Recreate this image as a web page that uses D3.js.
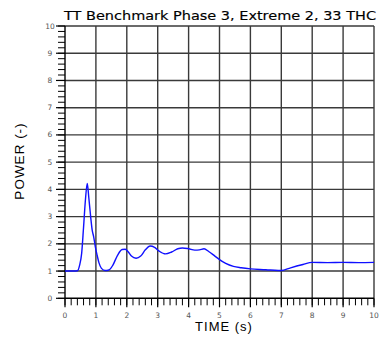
<!DOCTYPE html>
<html><head><meta charset="utf-8">
<script src="https://cdn.jsdelivr.net/npm/d3@7"></script>
<style>body{margin:0;background:#fff}svg{display:block}</style>
</head><body>
<script>
const timeS = [0,0.3,0.4,0.47,0.54,0.6,0.66,0.72,0.77,0.83,0.88,0.93,0.98,1.04,1.1,1.18,1.3,1.42,1.55,1.7,1.85,1.95,2.05,2.15,2.3,2.45,2.6,2.75,2.9,3.05,3.25,3.45,3.65,3.8,4.0,4.2,4.35,4.5,4.65,4.85,5.0,5.2,5.45,5.7,6.0,6.5,6.9,7.0,7.3,7.7,8.0,8.5,9.0,9.5,10];
const power = [1,1,1.01,1.2,1.66,2.6,3.6,4.22,3.7,3.0,2.5,2.25,1.9,1.58,1.3,1.1,1.02,1.04,1.22,1.58,1.79,1.8,1.7,1.55,1.47,1.55,1.78,1.92,1.87,1.73,1.63,1.7,1.82,1.85,1.82,1.77,1.78,1.82,1.72,1.55,1.42,1.28,1.17,1.12,1.08,1.05,1.02,1.02,1.12,1.24,1.32,1.31,1.32,1.31,1.32];
const xTicks = [0,1,2,3,4,5,6,7,8,9,10];
const yTicks = [0,1,2,3,4,5,6,7,8,9,10];
const title = "TT Benchmark Phase 3, Extreme 2, 33 THC";

const W=380,H=338;
const svg=d3.select("body").append("svg").attr("width",W).attr("height",H);
const x=d3.scaleLinear().domain([0,10]).range([65,374]);
const y=d3.scaleLinear().domain([0,10]).range([298.3,26]);

// grid
const g=svg.append("g");
g.selectAll(".vg").data(xTicks.slice(1)).join("line")
 .attr("x1",d=>x(d)).attr("x2",d=>x(d)).attr("y1",y(0)).attr("y2",y(10))
 .attr("stroke","#3a3a3a").attr("stroke-width",1.4);
g.selectAll(".hg").data(yTicks.slice(1)).join("line")
 .attr("x1",x(0)).attr("x2",x(10)).attr("y1",d=>y(d)).attr("y2",d=>y(d))
 .attr("stroke","#3a3a3a").attr("stroke-width",1.4);

// minor ticks
const minor=d3.range(0,10.001,0.2);
svg.append("g").selectAll("line").data(minor).join("line")
 .attr("x1",x(0)-7).attr("x2",x(0)).attr("y1",d=>y(d)).attr("y2",d=>y(d))
 .attr("stroke","#000").attr("stroke-width",1);
svg.append("g").selectAll("line").data(minor).join("line")
 .attr("y1",y(0)).attr("y2",y(0)+7).attr("x1",d=>x(d)).attr("x2",d=>x(d))
 .attr("stroke","#000").attr("stroke-width",1);
// major ticks
svg.append("g").selectAll("line").data(yTicks).join("line")
 .attr("x1",x(0)-9).attr("x2",x(0)).attr("y1",d=>y(d)).attr("y2",d=>y(d))
 .attr("stroke","#000").attr("stroke-width",1.2);
svg.append("g").selectAll("line").data(xTicks).join("line")
 .attr("y1",y(0)).attr("y2",y(0)+9).attr("x1",d=>x(d)).attr("x2",d=>x(d))
 .attr("stroke","#000").attr("stroke-width",1.2);

// axes lines
svg.append("line").attr("x1",x(0)).attr("x2",x(0)).attr("y1",y(0)).attr("y2",y(10)).attr("stroke","#000").attr("stroke-width",1.4);
svg.append("line").attr("x1",x(0)).attr("x2",x(10)).attr("y1",y(0)).attr("y2",y(0)).attr("stroke","#000").attr("stroke-width",1.4);

// tick labels
svg.append("g").selectAll("text").data(yTicks).join("text")
 .attr("x",50).attr("y",d=>y(d)+2.5).attr("text-anchor","middle")
 .attr("font-family","DejaVu Sans, sans-serif").attr("font-size",7.5).attr("fill","#555")
 .text(d=>d);
svg.append("g").selectAll("text").data(xTicks).join("text")
 .attr("x",d=>x(d)).attr("y",318).attr("text-anchor","middle")
 .attr("font-family","DejaVu Sans, sans-serif").attr("font-size",7.5).attr("fill","#555")
 .text(d=>d);

// line
const pts=timeS.map((t,i)=>[t,power[i]]);
svg.append("path").datum(pts)
 .attr("d",d3.line().x(d=>x(d[0])).y(d=>y(d[1])).curve(d3.curveMonotoneX))
 .attr("fill","none").attr("stroke","#1010ff").attr("stroke-width",1.4);

// title
svg.append("text").attr("x",64).attr("y",20).attr("textLength",312).attr("lengthAdjust","spacingAndGlyphs")
 .attr("font-family","DejaVu Sans, sans-serif").attr("font-size",12).attr("fill","#000")
 .attr("stroke","#000").attr("stroke-width",0.15).text(title);
// axis labels
svg.append("text").attr("x",224).attr("y",331).attr("text-anchor","middle")
 .attr("font-family","Liberation Sans, Arial, sans-serif").attr("font-size",13).attr("fill","#000")
 .attr("letter-spacing",1).text("TIME (s)");
svg.append("text").attr("transform","translate(24,161) rotate(-90)").attr("text-anchor","middle")
 .attr("font-family","Liberation Sans, Arial, sans-serif").attr("font-size",13.5).attr("fill","#000")
 .attr("letter-spacing",1).text("POWER (-)");
</script>
</body></html>
